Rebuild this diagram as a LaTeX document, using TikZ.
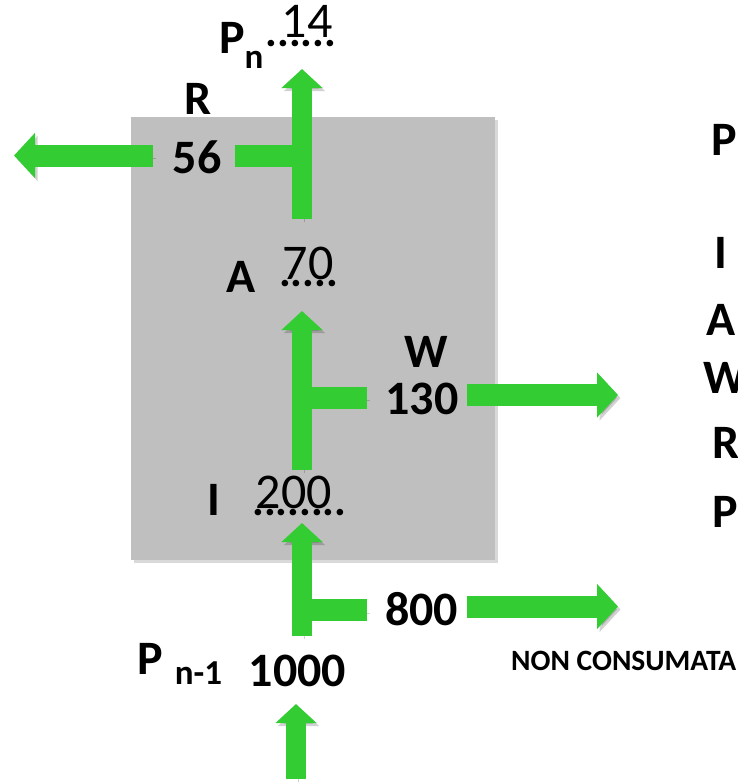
\documentclass[tikz,border=0pt]{standalone}
\usepackage{fontspec}
\setmainfont{Carlito}
\usetikzlibrary{arrows.meta, shadows, positioning}
\definecolor{flowgreen}{RGB}{51,204,51}
\definecolor{boxgray}{RGB}{191,191,191}

\tikzset{
  shade/.style={preaction={draw=black, opacity=.18, transform canvas={shift={(2.5pt,-3pt)}}}},
  flow/.style={shade, draw=flowgreen, line width=20pt, -{Triangle[length=19pt, width=40pt]}},
  flowwide/.style={shade, draw=flowgreen, line width=22pt, -{Triangle[length=21pt, width=44pt]}},
  bar/.style={shade, draw=flowgreen, line width=22pt},
  lbl/.style={font=\bfseries\fontsize{48}{48}\selectfont, inner sep=0pt},
  sublbl/.style={font=\bfseries\fontsize{35}{35}\selectfont, inner sep=0pt},
  dotrow/.style={font=\bfseries\fontsize{44}{44}\selectfont, inner sep=0pt},
  hand/.style={font=\fontsize{50}{50}\selectfont, inner sep=0pt},
  note/.style={font=\bfseries\fontsize{29.5}{29.5}\selectfont, inner sep=0pt}
}

\begin{document}
\begin{tikzpicture}[x=1pt, y=-1pt]
  \useasboundingbox (0,0) rectangle (738,784);

  % ecosystem box
  \fill[boxgray, drop shadow={shadow xshift=3pt, shadow yshift=-3pt, opacity=.3}] (131,117) rectangle (495,560);

  % flow points
  \coordinate (in0) at (296,779);
  \coordinate (in) at (296,704);
  \coordinate (pbase) at (302,636);
  \coordinate (itip) at (302,523);
  \coordinate (nbar) at (367,610);
  \coordinate (nout0) at (467,606.5);
  \coordinate (nout) at (618,606.5);
  \coordinate (ibase) at (302,470);
  \coordinate (atip) at (302,311);
  \coordinate (wbar) at (367,397.5);
  \coordinate (wout0) at (467,395);
  \coordinate (wout) at (618,395);
  \coordinate (abase) at (302,219);
  \coordinate (pntip) at (302,69);
  \coordinate (rbar) at (235,155.5);
  \coordinate (rout0) at (153,155.5);
  \coordinate (rout) at (14,155.5);

  % arrows
  \draw[flow] (in0) -- (in);
  \draw[bar] (nbar -| pbase) -- (nbar);
  \draw[flow] (pbase) -- (itip);
  \draw[flowwide] (nout0) -- (nout);
  \draw[bar] (wbar -| ibase) -- (wbar);
  \draw[flow] (ibase) -- (atip);
  \draw[flowwide] (wout0) -- (wout);
  \draw[bar] (rbar) -- (rbar -| abase);
  \draw[flow] (abase) -- (pntip);
  \draw[flowwide] (rout0) -- (rout);

  % labels
  \node[lbl] (pn) at (232,38) {P};
  \node[sublbl] (pnsub) at (254,60) {n};
  \node[dotrow] (pndots) at (301,44) {......};
  \node[hand] (pnval) at (307,21) {14};

  \node[lbl] (r) at (198.5,99) {R};
  \node[lbl] (r56) at (197,157.5) {56};

  \node[lbl] (a) at (241,277) {A};
  \node[dotrow] (adots) at (308.5,284) {.....};
  \node[hand] (aval) at (308,263) {70};

  \node[lbl] (w) at (426,352) {W};
  \node[lbl] (w130) at (422,399) {130};

  \node[lbl] (i) at (214,500) {I};
  \node[dotrow] (idots) at (299.5,513) {........};
  \node[hand] (ival) at (294,492) {200};

  \node[lbl] (n800) at (421.5,609) {800};

  \node[lbl] (pin) at (150,659) {P};
  \node[sublbl] (pinsub) at (198.5,673) {n-1};
  \node[lbl] (pin1000) at (297.5,671) {1000};

  \node[note, anchor=west] (nc) at (511,661) {NON CONSUMATA};

  % key column
  \node[lbl, anchor=west] (kp) at (711,140) {P};
  \node[lbl, anchor=west] (ki) at (714,253) {I};
  \node[lbl, anchor=west] (ka) at (706,320) {A};
  \node[lbl, anchor=west] (kw) at (703,378) {W};
  \node[lbl, anchor=west] (kr) at (712,443) {R};
  \node[lbl, anchor=west] (kp2) at (712,512) {P};
\end{tikzpicture}
\end{document}
